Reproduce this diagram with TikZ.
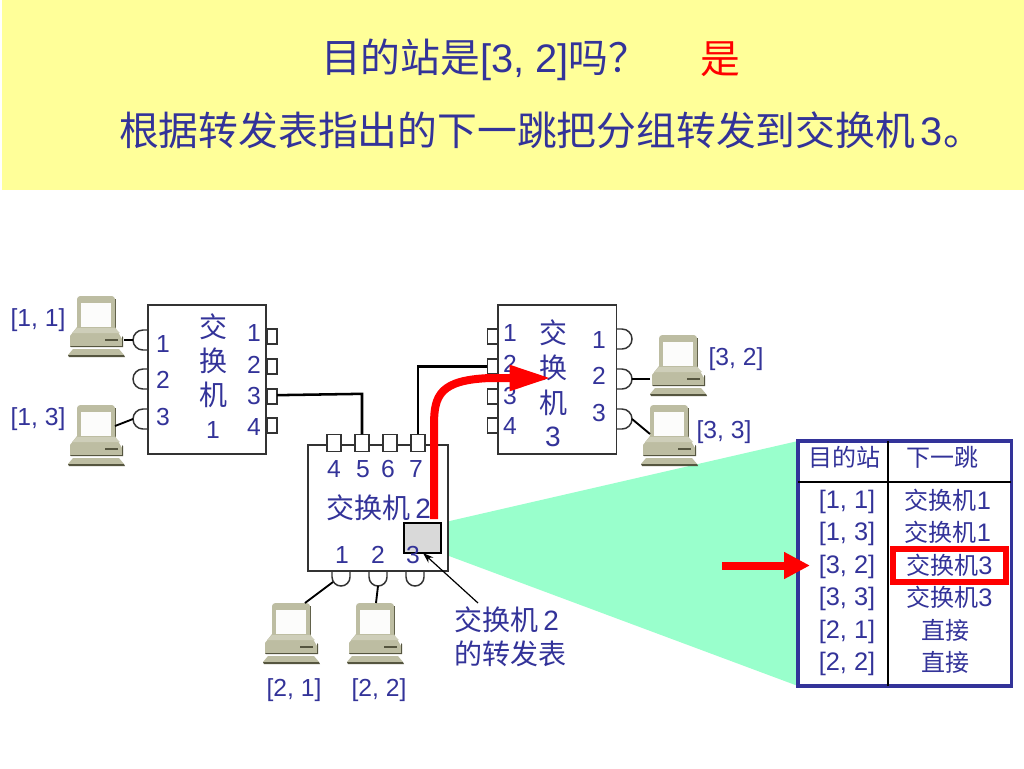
\documentclass[tikz,border=0pt]{standalone}
\usepackage{fontspec}
\usetikzlibrary{arrows.meta}
\setmainfont{Liberation Sans}
\newfontfamily\cjk{Noto Sans CJK SC}
\definecolor{ink}{HTML}{333399}
\definecolor{pale}{HTML}{FFFF99}
\definecolor{mint}{HTML}{99FFCC}
\definecolor{beige}{HTML}{BDBDA2}
\definecolor{beigedark}{HTML}{55553F}
\definecolor{outl}{HTML}{333333}
\tikzset{
  every node/.style={outer sep=0pt},
  txt/.style={inner sep=0pt,text=ink,font=\fontsize{18.5pt}{22pt}\selectfont},
  big/.style={txt,font=\fontsize{21pt}{25pt}\selectfont},
  tab/.style={txt,font=\fontsize{19pt}{22pt}\selectfont},
  huge/.style={txt,anchor=west,font=\fontsize{29.85pt}{36pt}\selectfont},
  swbox/.style={draw=outl,line width=1.1pt,inner sep=0pt,anchor=north west},
  wire/.style={line width=1.9pt,black},
  pcwire/.style={line width=1.4pt,black},
  portbox/.style={draw=outl,line width=1.1pt,fill=white,inner sep=0pt,minimum width=7.8pt,minimum height=11pt},
  topport/.style={draw=outl,line width=1.1pt,fill=white,inner sep=0pt,minimum width=10.5pt,minimum height=13pt},
  hole/.style={draw=outl,line width=1.1pt,fill=white},
  pcframe/.style={inner sep=0pt,minimum width=42pt,minimum height=45pt,anchor=north west},
}
\newcommand{\pcunit}[3]{%
  \node[pcframe] (#1) at (#2-2,#3) {};
  \begin{scope}[shift={(#2,#3)}]
    \fill[beigedark] (9,3) rectangle (46,35);
    \fill[beige,rounded corners=2.5pt] (7,0) -- (45,0) -- (45,36) -- (7,36) -- cycle;
    \fill[white!96!beige] (11,7) rectangle (41,31);
    \fill[beige] (7,31) -- (45,31) -- (52,43) -- (52,50) -- (0,50) -- (0,40) -- cycle;
    \fill[beige!75!white] (7,32) -- (45,32) -- (50,37) -- (2,37) -- cycle;
    \fill[beigedark] (52,40) -- (53,41) -- (53,51) -- (1,51) -- (0,50) -- (52,50) -- cycle;
    \draw[beigedark,line width=.9pt] (35,44) -- (48,44);
    \fill[beige] (3,53) -- (49,53) -- (54,59) -- (-2,59) -- cycle;
    \fill[beigedark] (-2,59) -- (54,59) -- (55,61) -- (-1,61) -- cycle;
  \end{scope}}
\newcommand{\holeL}[3]{%
  \draw[hole] (#1,#2-10) -- (#1-5,#2-10) arc[start angle=90,end angle=270,radius=7.5pt] -- (#1,#2+10);
  \coordinate (#3) at (#1-15,#2);}
\newcommand{\holeR}[3]{%
  \draw[hole] (#1,#2-10) -- (#1+5,#2-10) arc[start angle=90,end angle=-90,radius=7.5pt] -- (#1,#2+10);
  \coordinate (#3) at (#1+15,#2);}
\newcommand{\holeB}[3]{%
  \draw[hole] (#1-9,#2) -- (#1-9,#2+6) arc[start angle=180,end angle=360,radius=6.75pt] -- (#1+9,#2);
  \coordinate (#3) at (#1,#2+15);}
\begin{document}
\begin{tikzpicture}[x=0.75pt,y=-0.75pt]
\useasboundingbox (0,0) rectangle (1024,768);
\fill[white] (0,0) rectangle (1024,768);
\fill[pale] (2,0) rectangle (1024,190);
% title
\node[huge] (t1) at (321,60) {{\cjk 目的站是}[3, 2]{\cjk 吗？}};
\node[huge,text=red,anchor=center] (t2) at (720,59) {\cjk 是};
\node[huge] (t3) at (119,130) {{\cjk 根据转发表指出的下一跳把分组转发到交换机}\hspace{4pt}3\hspace{1pt}{\cjk 。}};
% projection
\fill[mint] (441,523) -- (798,441) -- (798,686) -- (441,553) -- cycle;
% holes
\holeL{148}{340}{h11}\holeL{148}{379}{h12}\holeL{148}{419}{h13}
\holeR{617}{339}{h31}\holeR{617}{379}{h32}\holeR{617}{419}{h33}
\holeB{341}{571}{h21}\holeB{378}{571}{h22}\holeB{415}{571}{h23}
% switch bodies
\node[swbox,fill=white,minimum width=88.5pt,minimum height=111.7pt] (s1) at (148,305) {};
\node[swbox,fill=white,minimum width=89pt,minimum height=111.7pt] (s3) at (498,305) {};
\node[swbox,fill=white,minimum width=105pt,minimum height=94.5pt] (s2) at (308,445) {};
% rectangular ports
\node[portbox] (p11) at (272,336.5) {};
\node[portbox] (p12) at (272,366.5) {};
\node[portbox] (p13) at (272,396.5) {};
\node[portbox] (p14) at (272,425.5) {};
\node[portbox] (p31) at (492.5,336.5) {};
\node[portbox] (p32) at (492.5,366.5) {};
\node[portbox] (p33) at (492.5,396.5) {};
\node[portbox] (p34) at (492.5,425.5) {};
\node[topport] (p24) at (334,443) {};
\node[topport] (p25) at (362,443) {};
\node[topport] (p26) at (390,443) {};
\node[topport] (p27) at (418,443) {};
% computers
\pcunit{pc11}{70}{296}
\pcunit{pc13}{70}{405}
\pcunit{pc32}{652}{335}
\pcunit{pc33}{643}{405}
\pcunit{pc21}{265}{603}
\pcunit{pc22}{349}{603}
% connectors
\coordinate (w21) at (333,582);
\draw[wire] ([yshift=1pt]p13.east) -- ([yshift=2pt]p25.north |- p13.east) -- (p25.north);
\draw[wire] (p32.west) -- (p27.north |- p32.west) -- (p27.north);
\draw[pcwire] (pc11.east |- h11) -- (h11);
\draw[pcwire] ([shift={(47,21)}]pc13.north west) -- (h13);
\draw[pcwire] (pc32.west |- h32) -- (h32);
\draw[pcwire] ([shift={(9,29)}]pc33.north west) -- (h33);
\draw[pcwire] ([shift={(42,0)}]pc21.north west) -- (w21);
\draw[pcwire] ([shift={(29,0)}]pc22.north west) -- (h22);
% switch 1 labels
\node[txt] (a1) at (163,344) {1};
\node[txt] (a2) at (163,380) {2};
\node[txt] (a3) at (163,417) {3};
\node[txt] (b1) at (254,333) {1};
\node[txt] (b2) at (254,365) {2};
\node[txt] (b3) at (254,396) {3};
\node[txt] (b4) at (254,427) {4};
\node[big] (c1) at (213,327) {\cjk 交};
\node[big] (c2) at (213,361) {\cjk 换};
\node[big] (c3) at (213,395) {\cjk 机};
\node[txt] (c4) at (213,430) {1};
% switch 3 labels
\node[txt] (d1) at (510,333) {1};
\node[txt] (d2) at (510,364) {2};
\node[txt] (d3) at (510,396) {3};
\node[txt] (d4) at (510,426) {4};
\node[big] (e1) at (553,333) {\cjk 交};
\node[big] (e2) at (553,368) {\cjk 换};
\node[big] (e3) at (553,403) {\cjk 机};
\node[big] (e4) at (553,437) {3};
\node[txt] (f1) at (599,340) {1};
\node[txt] (f2) at (599,376) {2};
\node[txt] (f3) at (599,413) {3};
% forwarding table box in switch 2
\node[draw=black,line width=1.5pt,fill=black!15,inner sep=0pt,minimum width=27.5pt,minimum height=22.5pt,anchor=north west] (ft) at (404,523) {};
% switch 2 labels
\node[txt] (g4) at (334,469) {4};
\node[txt] (g5) at (363,469) {5};
\node[txt] (g6) at (388,469) {6};
\node[txt] (g7) at (416,469) {7};
\node[big,anchor=west] (g0) at (326,508) {{\cjk 交换机}\hspace{4pt}2};
\node[txt] (g1) at (342,555) {1};
\node[txt] (g2) at (378,555) {2};
\node[txt] (g3) at (413,555) {3};
% address labels
\node[txt] (l11) at (38,320) {[1, 1]};
\node[txt] (l13) at (38,419) {[1, 3]};
\node[txt] (l32) at (736,359) {[3, 2]};
\node[txt] (l33) at (724,432) {[3, 3]};
\node[txt] (l21) at (294,690) {[2, 1]};
\node[txt] (l22) at (379,690) {[2, 2]};
% caption
\node[big,anchor=west] (cap1) at (454,620) {{\cjk 交换机}\hspace{4pt}2};
\node[big,anchor=west] (cap2) at (454,654) {\cjk 的转发表};
\coordinate (capfoot) at (478,603);
\draw[line width=.9pt,black,-{Stealth[length=8pt,width=5.5pt]}] (capfoot) -- (423,553);
% table
\node[draw=ink,line width=2.5pt,fill=white,inner sep=0pt,minimum width=160pt,minimum height=183.7pt,anchor=north west] (tb) at (798,441) {};
\coordinate (vt) at (888,441);
\coordinate (vb) at (888,686);
\coordinate (hl) at (798,482);
\coordinate (hr) at (1011,482);
\draw[black,line width=.8pt] (vt) -- (vb);
\draw[black,line width=.8pt] (hl) -- (hr);
\node[tab] (h1) at (844,457) {\fontsize{18pt}{22pt}\cjk 目的站};
\node[tab] (h2) at (942,457) {\fontsize{18pt}{22pt}\cjk 下一跳};
\node[tab] (r1) at (847,502) {[1, 1]};
\node[tab] (r2) at (847,534) {[1, 3]};
\node[tab] (r3) at (847,567) {[3, 2]};
\node[tab] (r4) at (847,599) {[3, 3]};
\node[tab] (r5) at (847,632) {[2, 1]};
\node[tab] (r6) at (847,664) {[2, 2]};
\node[tab] (n1) at (948,500) {{\fontsize{18pt}{22pt}\cjk 交换机}1};
\node[tab] (n2) at (948,532) {{\fontsize{18pt}{22pt}\cjk 交换机}1};
\node[tab] (n3) at (949.5,565) {{\fontsize{18pt}{22pt}\cjk 交换机}3};
\node[tab] (n4) at (949.5,597) {{\fontsize{18pt}{22pt}\cjk 交换机}3};
\node[tab] (n5) at (945,630) {\fontsize{18pt}{22pt}\cjk 直接};
\node[tab] (n6) at (945,662) {\fontsize{18pt}{22pt}\cjk 直接};
% highlights
\node[draw=red,line width=4.5pt,inner sep=0pt,minimum width=84.5pt,minimum height=24.75pt,anchor=north west] (hi) at (893,549) {};
\coordinate (ptr) at (722,565.5);
\draw[red,line width=6pt,-{Triangle[length=19.5pt,width=19pt]}] (ptr) -- (810,565.5);
% forwarding route
\coordinate (route1) at (551,378);
\draw[red,line width=6pt,-{Triangle[length=31pt,width=18pt]}] (434,519) -- (434,425) .. controls (434,395) and (440,380) .. (490,378) -- (route1);
\end{tikzpicture}
\end{document}
